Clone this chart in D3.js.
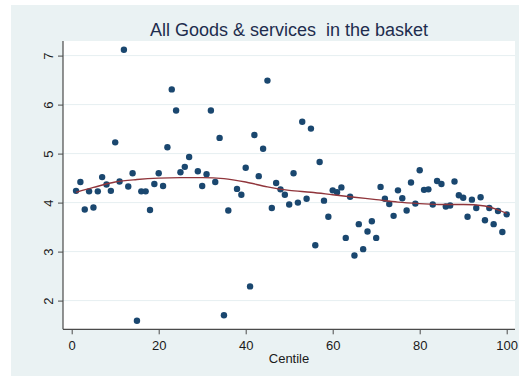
<!DOCTYPE html>
<html>
<head>
<meta charset="utf-8">
<script src="https://cdn.jsdelivr.net/npm/d3@7"></script>
<style>
  html, body { margin: 0; padding: 0; background: #ffffff; }
  svg { display: block; }
  text { font-family: "Liberation Sans", Arial, sans-serif; }
</style>
</head>
<body>
<div id="chart"></div>
<script>
const title = "All Goods & services  in the basket";
const xLabel = "Centile";
const xTicks = [0, 20, 40, 60, 80, 100];
const yTicks = [2, 3, 4, 5, 6, 7];

const centiles = [1,2,3,4,5,6,7,8,9,10,11,12,13,14,15,16,17,18,19,20,
  21,22,23,24,25,26,27,29,30,31,32,33,34,35,36,38,39,40,
  41,42,43,44,45,46,47,48,49,50,51,52,53,54,55,56,57,58,59,60,
  61,62,63,64,65,66,67,68,69,70,71,72,73,74,75,76,77,78,79,80,
  81,82,83,84,85,86,87,88,89,90,91,92,93,94,95,96,97,98,99,100];
const values = [4.24,4.42,3.86,4.23,3.90,4.23,4.52,4.37,4.24,5.23,4.43,7.12,4.33,4.60,1.59,4.23,4.23,3.85,4.38,4.60,
  4.34,5.13,6.31,5.88,4.62,4.73,4.93,4.64,4.34,4.58,5.88,4.42,5.32,1.70,3.84,4.28,4.16,4.71,
  2.29,5.38,4.54,5.10,6.49,3.89,4.40,4.27,4.16,3.96,4.60,4.00,5.65,4.08,5.51,3.13,4.83,4.04,3.71,4.25,
  4.21,4.31,3.28,4.12,2.92,3.56,3.05,3.41,3.62,3.28,4.32,4.08,3.97,3.73,4.25,4.09,3.84,4.41,3.98,4.66,
  4.26,4.27,3.96,4.44,4.38,3.92,3.94,4.43,4.15,4.10,3.71,4.06,3.89,4.11,3.64,3.89,3.56,3.83,3.40,3.76];

const lowessX = [1,5,10,15,20,25,30,35,40,45,50,55,60,65,70,75,80,85,90,95,98,100];
const lowessY = [4.21,4.31,4.42,4.47,4.50,4.51,4.51,4.49,4.42,4.32,4.25,4.21,4.16,4.11,4.06,4.01,3.98,3.96,3.96,3.93,3.85,3.78];

const W = 519, H = 377;
const svg = d3.select("#chart").append("svg").attr("width", W).attr("height", H);

// outer background
svg.append("rect").attr("x", 11).attr("y", 5).attr("width", W - 11).attr("height", 371)
  .attr("fill", "#eaf2f3");

const plot = {left: 63, right: 515, top: 41, bottom: 329.3};
svg.append("rect").attr("x", plot.left).attr("y", plot.top)
  .attr("width", plot.right - plot.left).attr("height", plot.bottom - plot.top)
  .attr("fill", "#ffffff");

const x = d3.scaleLinear().domain([0, 100]).range([71.7, 506.7]);
const y = d3.scaleLinear().domain([2, 7]).range([300.6, 55.6]);

// gridlines
svg.append("g").selectAll("line").data(yTicks).join("line")
  .attr("x1", plot.left).attr("x2", plot.right)
  .attr("y1", d => y(d)).attr("y2", d => y(d))
  .attr("stroke", "#e6eff1").attr("stroke-width", 1);

// y axis
const yAxis = svg.append("g").attr("transform", `translate(${plot.left},0)`)
  .call(d3.axisLeft(y).tickValues(yTicks).tickSize(5).tickFormat(d3.format("d")));
yAxis.select(".domain").remove();
yAxis.selectAll(".tick line").attr("stroke", "#4a4a4a");
yAxis.selectAll(".tick text")
  .attr("x", null).attr("dy", null)
  .attr("transform", "translate(-10,0) rotate(-90)")
  .attr("text-anchor", "middle")
  .attr("font-size", 13).attr("fill", "#1a1a1a")
  .attr("font-family", "'Liberation Sans', Arial, sans-serif");
svg.append("line").attr("x1", plot.left).attr("x2", plot.left)
  .attr("y1", plot.top).attr("y2", plot.bottom)
  .attr("stroke", "#4a4a4a").attr("stroke-width", 1.2);

// x axis
const xAxis = svg.append("g").attr("transform", `translate(0,${plot.bottom})`)
  .call(d3.axisBottom(x).tickValues(xTicks).tickSize(5).tickFormat(d3.format("d")));
xAxis.select(".domain").remove();
xAxis.selectAll(".tick line").attr("stroke", "#4a4a4a");
xAxis.selectAll(".tick text")
  .attr("y", 20.5).attr("dy", null)
  .attr("font-size", 13).attr("fill", "#1a1a1a")
  .attr("font-family", "'Liberation Sans', Arial, sans-serif");
svg.append("line").attr("x1", plot.left).attr("x2", plot.right)
  .attr("y1", plot.bottom).attr("y2", plot.bottom)
  .attr("stroke", "#4a4a4a").attr("stroke-width", 1.2);

// points
const pts = centiles.map((c, i) => ({c, v: values[i]}));
svg.append("g").selectAll("circle").data(pts).join("circle")
  .attr("cx", d => x(d.c)).attr("cy", d => y(d.v)).attr("r", 3.2)
  .attr("fill", "#1a476f");

// lowess line
const lw = lowessX.map((c, i) => ({c, v: lowessY[i]}));
svg.append("path").datum(lw)
  .attr("d", d3.line().x(d => x(d.c)).y(d => y(d.v)).curve(d3.curveMonotoneX))
  .attr("fill", "none").attr("stroke", "#90353b").attr("stroke-width", 1.4);

// title and axis label
svg.append("text").attr("x", 289).attr("y", 35.5).attr("text-anchor", "middle")
  .attr("font-size", 18).attr("fill", "#1e2d4e").style("white-space", "pre")
  .text(title);
svg.append("text").attr("x", 289).attr("y", 362.5).attr("text-anchor", "middle")
  .attr("font-size", 13).attr("fill", "#1a1a1a").text(xLabel);
</script>
</body>
</html>
